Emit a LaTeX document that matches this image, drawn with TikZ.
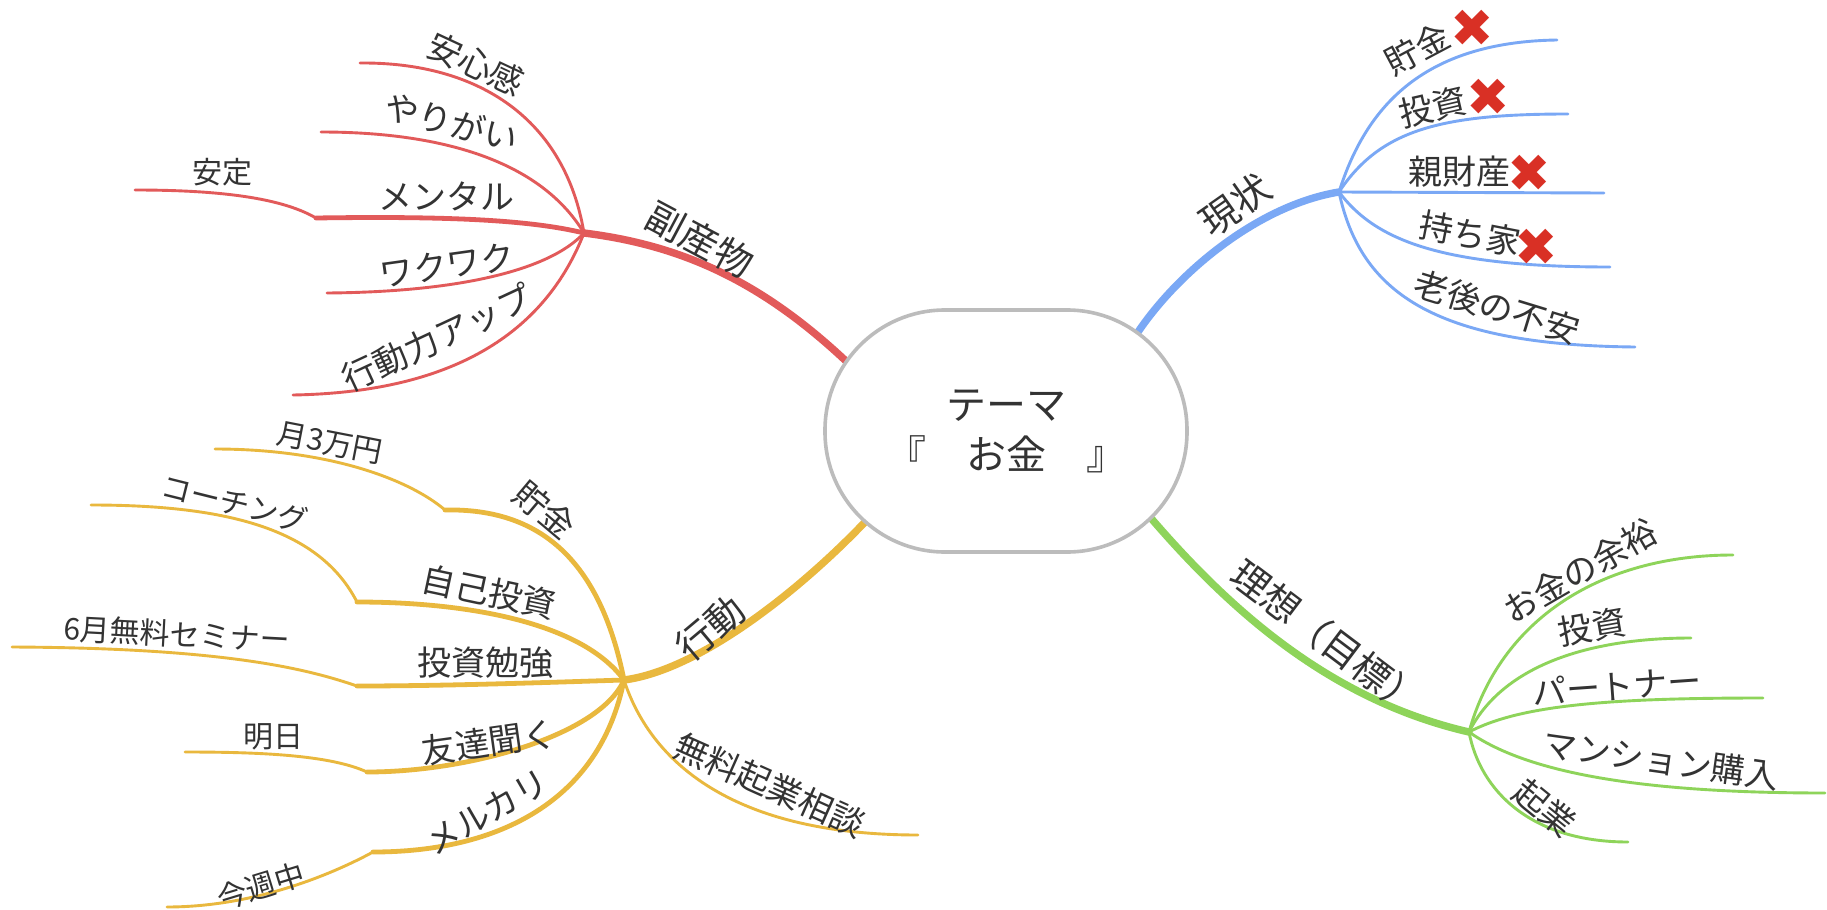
\documentclass[tikz,border=0pt]{standalone}
\usepackage{fontspec}
\setmainfont{Noto Sans CJK JP}
\newfontfamily\marksfont{DejaVu Sans}

\definecolor{mmred}{RGB}{226,90,90}
\definecolor{mmblue}{RGB}{122,168,245}
\definecolor{mmgreen}{RGB}{142,212,90}
\definecolor{mmyellow}{RGB}{233,184,62}
\definecolor{mmgrey}{RGB}{188,188,188}
\definecolor{mmtext}{RGB}{51,51,51}
\definecolor{mmcross}{RGB}{217,48,37}

\tikzset{every picture/.style={line width=0.75pt}}
\tikzset{
  trunk/.style={line width=3.7pt, line cap=round},
  limb/.style={line width=2.4pt, line cap=round},
  twig/.style={line width=1.45pt, line cap=round},
  topiclabel/.style={inner sep=0pt, text=mmtext, font=\fontsize{19}{19}\selectfont},
  sublabel/.style={inner sep=0pt, text=mmtext, font=\fontsize{17}{17}\selectfont},
  leaflabel/.style={inner sep=0pt, text=mmtext, font=\fontsize{15}{15}\selectfont},
  crossmark/.style={inner sep=0pt, text=mmcross, font=\marksfont\fontsize{26}{26}\selectfont},
}

\begin{document}
\begin{tikzpicture}[x=0.5pt,y=0.5pt,yscale=-1,xscale=1]
\useasboundingbox[fill=white] (0,0) rectangle (1827,910);

% Hubs and branch ends
\coordinate (rootR) at (847,362);
\coordinate (rootB) at (1138,332);
\coordinate (rootG) at (1150,517);
\coordinate (rootY) at (865,522);
\coordinate (hubR) at (584,233);
\coordinate (hubB) at (1339,192);
\coordinate (hubG) at (1469,732);
\coordinate (hubY) at (624,680);

%Red branch
\coordinate (anshinEnd) at (360,63);
\coordinate (yarigaiEnd) at (321,132);
\coordinate (mentalEnd) at (316,218);
\coordinate (anteiEnd) at (135,190);
\coordinate (wakuEnd) at (327,293);
\coordinate (actionEnd) at (293,395);
\draw[trunk, mmred] (rootR) .. controls (760,280) and (680,245) .. (hubR);
\draw[twig, mmred] (hubR) .. controls (565,120) and (480,62) .. (anshinEnd);
\draw[twig, mmred] (hubR) .. controls (540,160) and (440,132) .. (yarigaiEnd);
\draw[limb, mmred] (hubR) .. controls (530,220) and (450,216) .. (mentalEnd);
\draw[twig, mmred] (mentalEnd) .. controls (285,200) and (230,190) .. (anteiEnd);
\draw[twig, mmred] (hubR) .. controls (550,270) and (460,292) .. (wakuEnd);
\draw[twig, mmred] (hubR) .. controls (550,320) and (470,392) .. (actionEnd);

%Blue branch
\coordinate (chokinEnd) at (1557,40);
\coordinate (toushiEnd) at (1568,114);
\coordinate (oyaEnd) at (1604,193);
\coordinate (mochiEnd) at (1610,267);
\coordinate (rougoEnd) at (1635,347);
\draw[trunk, mmblue] (rootB) .. controls (1180,270) and (1260,205) .. (hubB);
\draw[twig, mmblue] (hubB) .. controls (1365,110) and (1420,42) .. (chokinEnd);
\draw[twig, mmblue] (hubB) .. controls (1380,130) and (1440,114) .. (toushiEnd);
\draw[twig, mmblue] (hubB) -- (oyaEnd);
\draw[twig, mmblue] (hubB) .. controls (1375,240) and (1440,267) .. (mochiEnd);
\draw[twig, mmblue] (hubB) .. controls (1360,290) and (1430,345) .. (rougoEnd);

%Green branch
\coordinate (yoyuEnd) at (1733,555);
\coordinate (gToushiEnd) at (1691,638);
\coordinate (partnerEnd) at (1763,698);
\coordinate (mansionEnd) at (1825,793);
\coordinate (kigyouEnd) at (1628,842);
\draw[trunk, mmgreen] (rootG) .. controls (1230,610) and (1330,700) .. (hubG);
\draw[twig, mmgreen] (hubG) .. controls (1500,620) and (1600,555) .. (yoyuEnd);
\draw[twig, mmgreen] (hubG) .. controls (1500,670) and (1580,638) .. (gToushiEnd);
\draw[twig, mmgreen] (hubG) .. controls (1520,705) and (1610,698) .. (partnerEnd);
\draw[twig, mmgreen] (hubG) .. controls (1530,775) and (1650,793) .. (mansionEnd);
\draw[twig, mmgreen] (hubG) .. controls (1480,790) and (1530,842) .. (kigyouEnd);

%Yellow branch
\coordinate (chokinKnee) at (445,510);
\coordinate (jikoKnee) at (357,602);
\coordinate (benkyoKnee) at (357,686);
\coordinate (tomoKnee) at (367,772);
\coordinate (merKnee) at (373,852);
\coordinate (gatsuEnd) at (215,449);
\coordinate (coachEnd) at (91,505);
\coordinate (seminarEnd) at (12,647);
\coordinate (ashitaEnd) at (185,752);
\coordinate (konshuEnd) at (167,907);
\coordinate (soudanEnd) at (918,835);
\draw[trunk, mmyellow] (rootY) .. controls (800,590) and (700,670) .. (hubY);
\draw[limb, mmyellow] (hubY) .. controls (600,560) and (540,508) .. (chokinKnee);
\draw[twig, mmyellow] (chokinKnee) .. controls (410,480) and (330,449) .. (gatsuEnd);
\draw[limb, mmyellow] (hubY) .. controls (580,620) and (460,602) .. (jikoKnee);
\draw[twig, mmyellow] (jikoKnee) .. controls (320,530) and (230,505) .. (coachEnd);
\draw[limb, mmyellow] (hubY) .. controls (560,682) and (450,686) .. (benkyoKnee);
\draw[twig, mmyellow] (benkyoKnee) .. controls (310,670) and (230,648) .. (seminarEnd);
\draw[limb, mmyellow] (hubY) .. controls (600,735) and (470,772) .. (tomoKnee);
\draw[twig, mmyellow] (tomoKnee) .. controls (330,755) and (260,752) .. (ashitaEnd);
\draw[limb, mmyellow] (hubY) .. controls (600,800) and (500,852) .. (merKnee);
\draw[twig, mmyellow] (merKnee) .. controls (340,870) and (260,907) .. (konshuEnd);
\draw[twig, mmyellow] (hubY) .. controls (650,760) and (730,835) .. (soudanEnd);

% Root
\node (root) [draw=mmgrey, line width=1.8pt, fill=white, rounded corners=60pt, minimum width=181pt, minimum height=121pt, align=center, text=mmtext, font=\fontsize{20}{25}\selectfont] at (1006,431) {テーマ\\『　お金　』};

% Text Node
\node (lblByproduct) [topiclabel, rotate=-28] at (700,240) {副産物};
\node (lblAnshin) [sublabel, rotate=-25] at (476,64) {安心感};
\node (lblYarigai) [sublabel, rotate=-15] at (452,122) {やりがい};
\node (lblMental) [sublabel] at (446,196) {メンタル};
\node (lblAntei) [leaflabel] at (222,172) {安定};
\node (lblWaku) [sublabel, rotate=8] at (447,265) {ワクワク};
\node (lblAction) [sublabel, rotate=25] at (437,338) {行動力アップ};

% Text Node
\node (lblNow) [topiclabel, rotate=35] at (1235,205) {現状};
\node (lblChokin) [sublabel, rotate=28] at (1417,49) {貯金};
\node (xChokin) [crossmark] at (1472,28) {✖};
\node (lblToushi) [sublabel, rotate=13] at (1433,107) {投資};
\node (xToushi) [crossmark] at (1488,97) {✖};
\node (lblOya) [sublabel] at (1459,172) {親財産};
\node (xOya) [crossmark] at (1529,173) {✖};
\node (lblMochi) [sublabel, rotate=-11] at (1470,234) {持ち家};
\node (xMochi) [crossmark] at (1536,247) {✖};
\node (lblRougo) [sublabel, rotate=-17] at (1497,307) {老後の不安};

% Text Node
\node (lblIdeal) [topiclabel, rotate=-37] at (1327,638) {理想（目標）};
\node (lblYoyu) [sublabel, rotate=30] at (1580,571) {お金の余裕};
\node (lblGToushi) [sublabel, rotate=10] at (1592,627) {投資};
\node (lblPartner) [sublabel, rotate=4] at (1617,686) {パートナー};
\node (lblMansion) [sublabel, rotate=-8] at (1661,760) {マンション購入};
\node (lblKigyou) [sublabel, rotate=-39] at (1545,808) {起業};

% Text Node
\node (lblDo) [topiclabel, rotate=40] at (710,628) {行動};
\node (lblYChokin) [sublabel, rotate=-40] at (545,510) {貯金};
\node (lblGatsu) [leaflabel, rotate=-11] at (330,443) {月3万円};
\node (lblCoach) [leaflabel, rotate=-14] at (235,503) {コーチング};
\node (lblJiko) [sublabel, rotate=-12] at (489,592) {自己投資};
\node (lblSeminar) [leaflabel, rotate=-3] at (177,634) {6月無料セミナー};
\node (lblBenkyo) [sublabel] at (485,663) {投資勉強};
\node (lblAshita) [leaflabel] at (273,737) {明日};
\node (lblTomo) [sublabel, rotate=8] at (489,742) {友達聞く};
\node (lblMercari) [sublabel, rotate=30] at (487,812) {メルカリ};
\node (lblKonshu) [leaflabel, rotate=17] at (261,886) {今週中};
\node (lblSoudan) [sublabel, rotate=-24] at (770,785) {無料起業相談};

\end{tikzpicture}
\end{document}
